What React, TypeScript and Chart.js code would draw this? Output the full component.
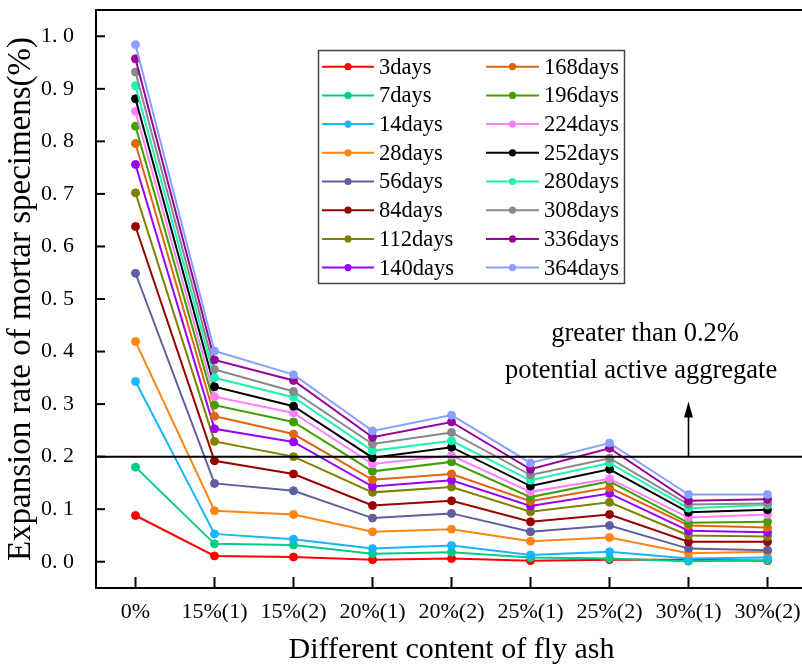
import React, { useEffect, useRef } from "react";
import { Chart, registerables } from "chart.js";

Chart.register(...registerables);

const FONT = "'Liberation Serif', 'Times New Roman', serif";

const categories = ["0%", "15%(1)", "15%(2)", "20%(1)", "20%(2)", "25%(1)", "25%(2)", "30%(1)", "30%(2)"];

const seriesNames = [
  "3days", "7days", "14days", "28days", "56days", "84days", "112days", "140days",
  "168days", "196days", "224days", "252days", "280days", "308days", "336days", "364days",
];

const seriesColors = [
  "#FF0000", "#00CC88", "#19B4FF", "#FF8513", "#5F5F9F", "#990000", "#808000", "#9900FF",
  "#E0640A", "#40A000", "#FF80FF", "#000000", "#1AF5B4", "#888888", "#990099", "#8AA0FF",
];

const d3 = [0.088, 0.011, 0.009, 0.004, 0.006, 0.002, 0.004, 0.004, 0.002];
const d7 = [0.180, 0.034, 0.032, 0.015, 0.018, 0.008, 0.006, 0.001, 0.003];
const d14 = [0.343, 0.053, 0.043, 0.025, 0.031, 0.013, 0.019, 0.006, 0.008];
const d28 = [0.419, 0.097, 0.090, 0.057, 0.062, 0.039, 0.046, 0.016, 0.019];
const d56 = [0.549, 0.149, 0.135, 0.083, 0.092, 0.057, 0.069, 0.025, 0.022];
const d84 = [0.638, 0.192, 0.167, 0.107, 0.116, 0.076, 0.090, 0.038, 0.038];
const d112 = [0.702, 0.229, 0.200, 0.132, 0.142, 0.095, 0.113, 0.050, 0.048];
const d140 = [0.756, 0.253, 0.228, 0.143, 0.155, 0.106, 0.130, 0.059, 0.056];
const d168 = [0.796, 0.277, 0.243, 0.156, 0.167, 0.115, 0.141, 0.069, 0.065];
const d196 = [0.829, 0.298, 0.266, 0.172, 0.190, 0.123, 0.153, 0.074, 0.076];
const d224 = [0.857, 0.314, 0.283, 0.186, 0.202, 0.133, 0.158, 0.084, 0.090];
const d252 = [0.881, 0.333, 0.296, 0.198, 0.218, 0.144, 0.176, 0.094, 0.099];
const d280 = [0.906, 0.350, 0.313, 0.211, 0.230, 0.155, 0.188, 0.102, 0.108];
const d308 = [0.932, 0.366, 0.324, 0.224, 0.246, 0.165, 0.197, 0.109, 0.111];
const d336 = [0.957, 0.384, 0.345, 0.237, 0.266, 0.176, 0.216, 0.116, 0.119];
const d364 = [0.984, 0.401, 0.356, 0.249, 0.279, 0.188, 0.226, 0.128, 0.128];

const seriesValues = [d3, d7, d14, d28, d56, d84, d112, d140, d168, d196, d224, d252, d280, d308, d336, d364];

const yTicks = [0, 0.1, 0.2, 0.3, 0.4, 0.5, 0.6, 0.7, 0.8, 0.9, 1.0];
const yTickLabels = ["0. 0", "0. 1", "0. 2", "0. 3", "0. 4", "0. 5", "0. 6", "0. 7", "0. 8", "0. 9", "1. 0"];

const thresholdValue = 0.2;
const arrowTipValue = 0.305;
const arrowCategory = 7;
const annotationLines = ["greater than 0.2%", "potential active aggregate"];
const annotationValues = [0.433, 0.363];

const overlayPlugin = {
  id: "overlay",
  afterDatasetsDraw(chart: any) {
    const { ctx, chartArea, scales } = chart;
    const xs = scales.x;
    const ys = scales.y;
    ctx.save();
    ctx.strokeStyle = "#000";
    ctx.fillStyle = "#000";

    // top frame
    ctx.lineWidth = 2;
    ctx.beginPath();
    ctx.moveTo(chartArea.left, chartArea.top);
    ctx.lineTo(chartArea.right, chartArea.top);
    ctx.stroke();

    // inward tick marks
    ctx.lineWidth = 2;
    ys.ticks.forEach((t: any) => {
      const y = ys.getPixelForValue(t.value);
      ctx.beginPath();
      ctx.moveTo(chartArea.left, y);
      ctx.lineTo(chartArea.left + 9, y);
      ctx.stroke();
    });
    categories.forEach((_, i) => {
      const x = xs.getPixelForValue(i);
      ctx.beginPath();
      ctx.moveTo(x, chartArea.bottom);
      ctx.lineTo(x, chartArea.bottom - 11);
      ctx.stroke();
    });

    // threshold line
    const ty = ys.getPixelForValue(thresholdValue);
    ctx.lineWidth = 2;
    ctx.beginPath();
    ctx.moveTo(chartArea.left, ty);
    ctx.lineTo(chartArea.right, ty);
    ctx.stroke();

    // arrow
    const ax = xs.getPixelForValue(arrowCategory);
    const tipY = ys.getPixelForValue(arrowTipValue);
    ctx.lineWidth = 1.6;
    ctx.beginPath();
    ctx.moveTo(ax, ty);
    ctx.lineTo(ax, tipY + 12);
    ctx.stroke();
    ctx.beginPath();
    ctx.moveTo(ax, tipY);
    ctx.lineTo(ax - 4.5, tipY + 16);
    ctx.lineTo(ax + 4.5, tipY + 16);
    ctx.closePath();
    ctx.fill();

    // annotation text
    const x6 = xs.getPixelForValue(6);
    const x7 = xs.getPixelForValue(7);
    ctx.font = `26.5px ${FONT}`;
    ctx.textAlign = "center";
    ctx.textBaseline = "middle";
    ctx.fillText(annotationLines[0], x6 + 0.45 * (x7 - x6), ys.getPixelForValue(annotationValues[0]));
    ctx.fillText(annotationLines[1], x6 + 0.40 * (x7 - x6), ys.getPixelForValue(annotationValues[1]));

    // legend
    const boxL = 318.5, boxT = 50.5, boxW = 306, boxH = 233;
    ctx.fillStyle = "#fff";
    ctx.fillRect(boxL, boxT, boxW, boxH);
    ctx.strokeStyle = "#444";
    ctx.lineWidth = 1.5;
    ctx.strokeRect(boxL, boxT, boxW, boxH);
    const rowTop = 66.7, rowStep = 28.7;
    const cols = [
      { lineL: 322, lineR: 374, textX: 379 },
      { lineL: 486, lineR: 539, textX: 544 },
    ];
    ctx.font = `22.5px ${FONT}`;
    ctx.textAlign = "left";
    ctx.textBaseline = "middle";
    chart.data.datasets.forEach((ds: any, i: number) => {
      const c = cols[i < 8 ? 0 : 1];
      const y = rowTop + (i % 8) * rowStep;
      ctx.strokeStyle = ds.borderColor;
      ctx.lineWidth = 2;
      ctx.beginPath();
      ctx.moveTo(c.lineL, y);
      ctx.lineTo(c.lineR, y);
      ctx.stroke();
      ctx.fillStyle = ds.borderColor;
      ctx.beginPath();
      ctx.arc((c.lineL + c.lineR) / 2, y, 3.6, 0, Math.PI * 2);
      ctx.fill();
      ctx.fillStyle = "#000";
      ctx.fillText(ds.label, c.textX, y + 1);
    });
    ctx.restore();
  },
};

export default function App() {
  const canvasRef = useRef<HTMLCanvasElement | null>(null);

  useEffect(() => {
    if (!canvasRef.current) return;
    const datasets = seriesValues.map((vals, i) => ({
      label: seriesNames[i],
      data: vals,
      borderColor: seriesColors[i],
      backgroundColor: seriesColors[i],
      pointBackgroundColor: seriesColors[i],
      pointBorderColor: seriesColors[i],
      borderWidth: 2,
      pointRadius: 4,
      pointBorderWidth: 1,
      tension: 0,
      order: seriesValues.length - i,
    }));
    const chart = new Chart(canvasRef.current, {
      type: "line",
      data: { labels: categories, datasets },
      options: {
        animation: false,
        responsive: false,
        maintainAspectRatio: false,
        layout: { padding: { top: 10, right: 3, left: 0, bottom: 0 } },
        plugins: {
          legend: { display: false },
          tooltip: { enabled: false },
        },
        scales: {
          x: {
            type: "category",
            offset: true,
            grid: { display: false },
            border: { display: true, color: "#000", width: 2 },
            ticks: { font: { size: 22, family: FONT }, color: "#000", padding: 3, maxRotation: 0, autoSkip: false },
            title: {
              display: true,
              text: "Different content of fly ash",
              font: { size: 30, family: FONT },
              color: "#000",
              padding: { top: 0, bottom: 0 },
            },
            afterFit: (s: any) => {
              s.height = 80;
              s.paddingLeft = 0;
              s.paddingRight = 0;
            },
          },
          y: {
            type: "linear",
            min: -0.05,
            max: 1.05,
            afterBuildTicks: (s: any) => {
              s.ticks = yTicks.map((v) => ({ value: v }));
            },
            grid: { display: false },
            border: { display: true, color: "#000", width: 2 },
            ticks: {
              font: { size: 22, family: FONT },
              color: "#000",
              padding: 14,
              callback: (_v: any, idx: number) => yTickLabels[idx],
            },
            title: {
              display: true,
              text: "Expansion rate of mortar specimens(%)",
              font: { size: 33, family: FONT },
              color: "#000",
              padding: { top: 2, bottom: 0 },
            },
            afterFit: (s: any) => {
              s.width = 96;
              s.paddingTop = 0;
              s.paddingBottom = 0;
            },
          },
        },
      },
      plugins: [overlayPlugin],
    });
    return () => chart.destroy();
  }, []);

  return (
    <div
      style={{
        position: "absolute",
        left: 0,
        top: 0,
        width: 802,
        height: 668,
        overflow: "hidden",
        background: "#fff",
      }}
    >
      <canvas ref={canvasRef} width={812} height={668} style={{ width: 812, height: 668, display: "block" }} />
    </div>
  );
}
